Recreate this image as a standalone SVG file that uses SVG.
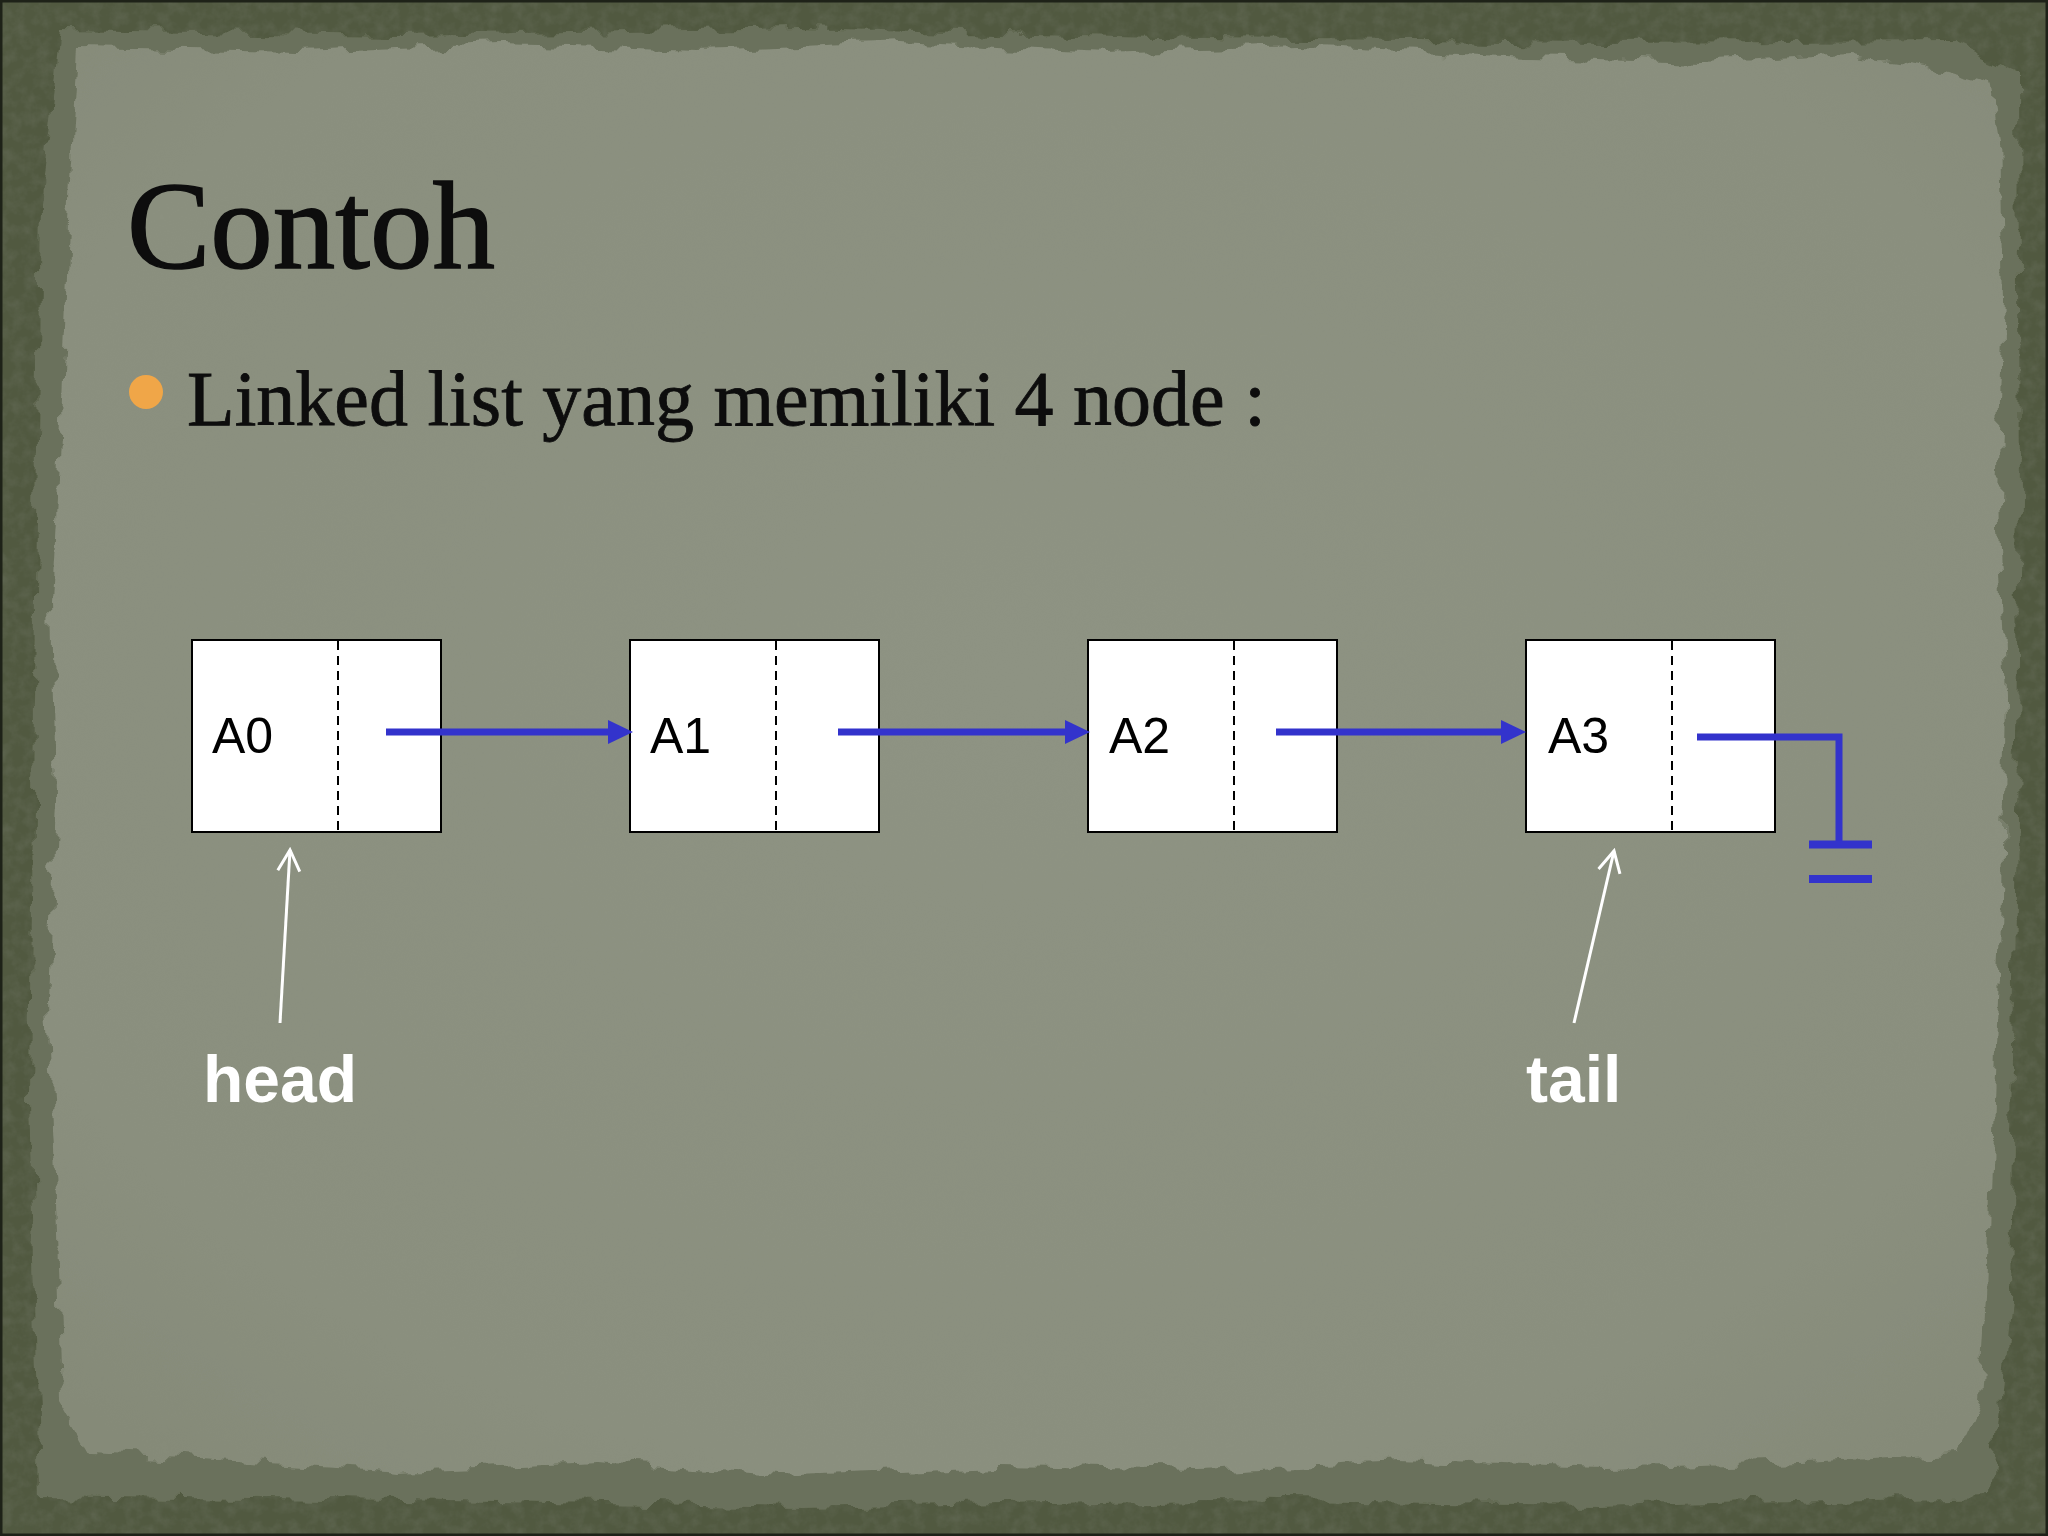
<svg xmlns="http://www.w3.org/2000/svg" width="2048" height="1536" viewBox="0 0 2048 1536">
  <defs>
    <style>
      .box { fill: #ffffff; stroke: #000000; stroke-width: 2; }
      .div { stroke: #000000; stroke-width: 2; stroke-dasharray: 9 6; }
      .lbl { font-family: "Liberation Sans", Arial, sans-serif; font-size: 50px; fill: #000000; }
      .ptr { stroke: #3333cc; stroke-width: 7; fill: none; }
      .nul { stroke: #3333cc; stroke-width: 7; fill: none; stroke-linejoin: miter; }
      .gnd { stroke: #3333cc; stroke-width: 8; }
      .wl { stroke: #ffffff; stroke-width: 3; fill: none; }
      .name { font-family: "Liberation Sans", Arial, sans-serif; font-size: 66px; font-weight: bold; fill: #ffffff; }
      .title { font-family: "Liberation Serif", "Times New Roman", serif; font-size: 125px; fill: #0d0d0d; stroke: #0d0d0d; stroke-width: 1.5; }
      .body { font-family: "Liberation Serif", "Times New Roman", serif; font-size: 78px; fill: #0d0d0d; stroke: #0d0d0d; stroke-width: 0.8; }
    </style>
    <marker id="blueHead" viewBox="0 0 25 24" refX="3" refY="12" markerWidth="25" markerHeight="24" markerUnits="userSpaceOnUse" orient="auto">
      <path d="M0,0 L25,12 L0,24 Z" fill="#3333cc"/>
    </marker>
    <marker id="openHead" viewBox="0 0 26 26" refX="23" refY="13" markerWidth="26" markerHeight="26" markerUnits="userSpaceOnUse" orient="auto">
      <path d="M2,2 L23,13 L2,24" fill="none" stroke="#ffffff" stroke-width="3"/>
    </marker>
    <filter id="rough" x="-5%" y="-5%" width="110%" height="110%">
      <feTurbulence type="fractalNoise" baseFrequency="0.035" numOctaves="3" seed="7" result="n"/>
      <feDisplacementMap in="SourceGraphic" in2="n" scale="22" xChannelSelector="R" yChannelSelector="G"/>
    </filter>
    <filter id="grain" x="0" y="0" width="100%" height="100%">
      <feTurbulence type="fractalNoise" baseFrequency="0.08" numOctaves="4" seed="2" result="t"/>
      <feColorMatrix in="t" type="matrix" values="0 0 0 0 0.15  0 0 0 0 0.17  0 0 0 0 0.12  0 0 0 -1.6 1.0"/>
    </filter>
    <radialGradient id="paperGrad" cx="50%" cy="45%" r="70%">
      <stop offset="0" stop-color="#8e9383"/>
      <stop offset="0.8" stop-color="#8a8f7e"/>
      <stop offset="1" stop-color="#858a78"/>
    </radialGradient>
  </defs>

  <!-- background frame -->
  <rect x="0" y="0" width="2048" height="1536" fill="#515940"/>
  <rect x="0" y="0" width="2048" height="1536" filter="url(#grain)" opacity="0.5"/>
  <rect x="1" y="1" width="2046" height="1534" fill="none" stroke="#1e2218" stroke-width="3"/>
  <path filter="url(#rough)" fill="#6a715b" d="M60,30 L400,35 L800,28 L1200,38 L1600,42 L1950,40 L2018,70 L2020,500 L2015,900 L2010,1300 L1990,1495 L1600,1505 L1200,1500 L800,1508 L400,1500 L40,1495 L30,1100 L35,600 L40,200 Z"/>
  <path filter="url(#rough)" fill="url(#paperGrad)" d="M78,48 L300,52 L500,44 L700,50 L900,42 L1100,52 L1300,46 L1500,56 L1700,62 L1850,54 L1930,66 L1990,82 L2000,140 L2004,300 L1998,500 L2006,700 L2002,900 L1994,1100 L1988,1300 L1982,1400 L1958,1455 L1800,1462 L1600,1468 L1400,1460 L1200,1470 L1000,1466 L800,1474 L600,1462 L400,1470 L200,1458 L92,1452 L62,1400 L56,1200 L48,1000 L56,800 L52,600 L62,400 L70,200 Z"/>

  <!-- title and bullet text -->
  <text class="title" x="127" y="268">Contoh</text>
  <circle cx="146" cy="392" r="17" fill="#f0a648"/>
  <text class="body" x="187" y="425">Linked list yang memiliki 4 node :</text>

  <!-- nodes -->
  <g id="node-A0">
    <rect class="box" x="192" y="640" width="249" height="192"/>
    <line class="div" x1="338" y1="641" x2="338" y2="831"/>
    <text class="lbl" x="212" y="753">A0</text>
  </g>
  <g id="node-A1">
    <rect class="box" x="630" y="640" width="249" height="192"/>
    <line class="div" x1="776" y1="641" x2="776" y2="831"/>
    <text class="lbl" x="650" y="753">A1</text>
  </g>
  <g id="node-A2">
    <rect class="box" x="1088" y="640" width="249" height="192"/>
    <line class="div" x1="1234" y1="641" x2="1234" y2="831"/>
    <text class="lbl" x="1109" y="753">A2</text>
  </g>
  <g id="node-A3">
    <rect class="box" x="1526" y="640" width="249" height="192"/>
    <line class="div" x1="1672" y1="641" x2="1672" y2="831"/>
    <text class="lbl" x="1548" y="753">A3</text>
  </g>
  <g id="label-head">
    <text class="name" x="203" y="1102">head</text>
  </g>
  <g id="label-tail">
    <text class="name" x="1526" y="1102">tail</text>
  </g>

  <!-- connectors -->
  <g id="connectors">
    <line class="ptr" x1="386" y1="732" x2="611" y2="732" marker-end="url(#blueHead)"/>
    <line class="ptr" x1="838" y1="732" x2="1068" y2="732" marker-end="url(#blueHead)"/>
    <line class="ptr" x1="1276" y1="732" x2="1504" y2="732" marker-end="url(#blueHead)"/>
    <polyline class="nul" points="1697,737 1839,737 1839,845"/>
    <line class="gnd" x1="1809" y1="844.5" x2="1872" y2="844.5"/>
    <line class="gnd" x1="1809" y1="879" x2="1872" y2="879"/>
    <line class="wl" x1="280" y1="1023" x2="290" y2="850" marker-end="url(#openHead)"/>
    <line class="wl" x1="1574" y1="1023" x2="1614" y2="851" marker-end="url(#openHead)"/>
  </g>
</svg>
